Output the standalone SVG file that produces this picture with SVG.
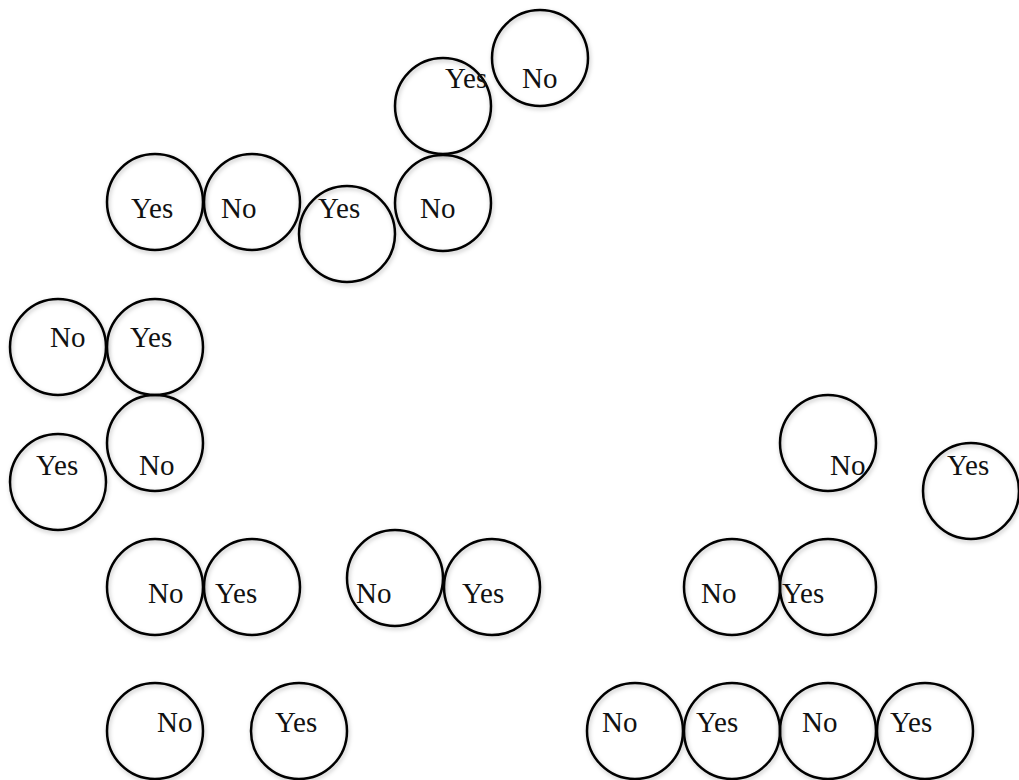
<svg xmlns="http://www.w3.org/2000/svg" width="1019" height="780" viewBox="0 0 1019 780">
<style>
  .c { fill: none; stroke: #000; stroke-width: 2.5; filter: url(#sh); }
  .t { font-family: "Liberation Serif", serif; font-size: 29px; fill: #111; }
</style>
<defs>
  <filter id="sh" x="-20%" y="-20%" width="140%" height="140%">
    <feDropShadow dx="1" dy="2" stdDeviation="2" flood-color="#000" flood-opacity="0.25"/>
  </filter>
</defs>
<rect width="1019" height="780" fill="#fff"/>
<g id="connectors"></g>
<g id="n1"><circle class="c" cx="540" cy="58" r="48"/><text class="t" x="522" y="88">No</text></g>
<g id="n2"><circle class="c" cx="443" cy="106" r="48"/><text class="t" x="445" y="88">Yes</text></g>
<g id="n3"><circle class="c" cx="155" cy="202" r="48"/><text class="t" x="131" y="218">Yes</text></g>
<g id="n4"><circle class="c" cx="252" cy="202" r="48"/><text class="t" x="221" y="218">No</text></g>
<g id="n5"><circle class="c" cx="347" cy="234" r="48"/><text class="t" x="318" y="218">Yes</text></g>
<g id="n6"><circle class="c" cx="443" cy="203" r="48"/><text class="t" x="420" y="218">No</text></g>
<g id="n7"><circle class="c" cx="58" cy="347" r="48"/><text class="t" x="50" y="347">No</text></g>
<g id="n8"><circle class="c" cx="155" cy="347" r="48"/><text class="t" x="130" y="347">Yes</text></g>
<g id="n9"><circle class="c" cx="155" cy="443" r="48"/><text class="t" x="139" y="475">No</text></g>
<g id="n10"><circle class="c" cx="58" cy="482" r="48"/><text class="t" x="36" y="475">Yes</text></g>
<g id="n11"><circle class="c" cx="828" cy="443" r="48"/><text class="t" x="830" y="475">No</text></g>
<g id="n12"><circle class="c" cx="971" cy="491" r="48"/><text class="t" x="947" y="475">Yes</text></g>
<g id="n13"><circle class="c" cx="155" cy="587" r="48"/><text class="t" x="148" y="603">No</text></g>
<g id="n14"><circle class="c" cx="252" cy="587" r="48"/><text class="t" x="215" y="603">Yes</text></g>
<g id="n15"><circle class="c" cx="395" cy="578" r="48"/><text class="t" x="356" y="603">No</text></g>
<g id="n16"><circle class="c" cx="492" cy="587" r="48"/><text class="t" x="462" y="603">Yes</text></g>
<g id="n17"><circle class="c" cx="732" cy="587" r="48"/><text class="t" x="701" y="603">No</text></g>
<g id="n18"><circle class="c" cx="828" cy="587" r="48"/><text class="t" x="782" y="603">Yes</text></g>
<g id="n19"><circle class="c" cx="155" cy="731" r="48"/><text class="t" x="157" y="732">No</text></g>
<g id="n20"><circle class="c" cx="299" cy="731" r="48"/><text class="t" x="275" y="732">Yes</text></g>
<g id="n21"><circle class="c" cx="635" cy="731" r="48"/><text class="t" x="602" y="732">No</text></g>
<g id="n22"><circle class="c" cx="732" cy="731" r="48"/><text class="t" x="696" y="732">Yes</text></g>
<g id="n23"><circle class="c" cx="828" cy="731" r="48"/><text class="t" x="802" y="732">No</text></g>
<g id="n24"><circle class="c" cx="925" cy="731" r="48"/><text class="t" x="890" y="732">Yes</text></g>
</svg>
